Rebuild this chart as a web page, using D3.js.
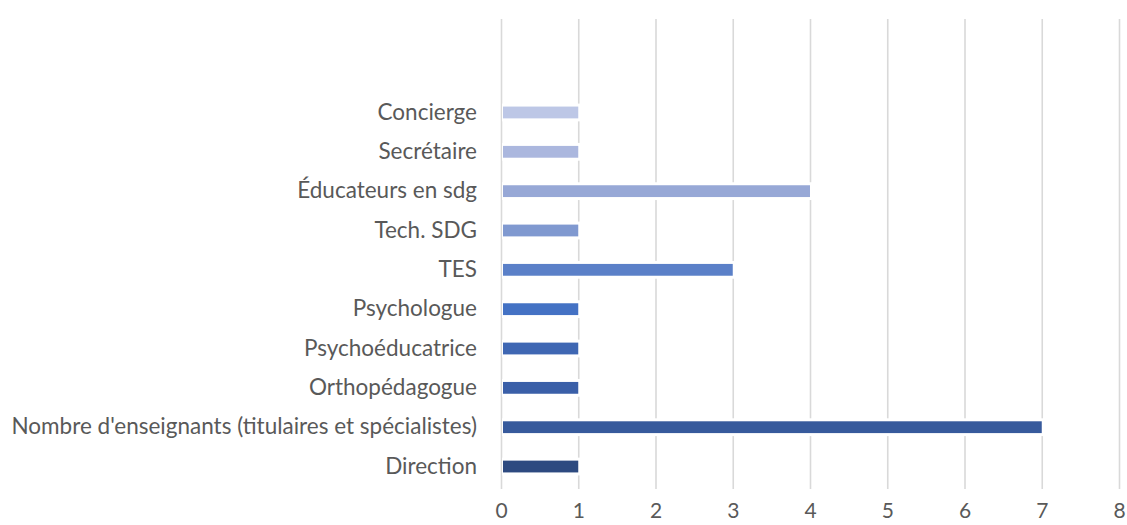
<!DOCTYPE html>
<html>
<head>
<meta charset="utf-8">
<script src="https://cdn.jsdelivr.net/npm/d3@7"></script>
<style>
	body { margin: 0; background: #fff; }
	svg text { font-family: Lato, "Open Sans", sans-serif; fill: #595959; }
</style>
</head>
<body>
<div id="chart"></div>
<script>
// categories listed bottom to top, as in the picture
var categories = ["Direction", "Nombre d'enseignants (titulaires et spécialistes)", "Orthopédagogue",
	"Psychoéducatrice", "Psychologue", "TES", "Tech. SDG", "Éducateurs en sdg", "Secrétaire", "Concierge"];
var values = [1, 7, 1, 1, 1, 3, 1, 4, 1, 1];
var barColors = ["#2D4A80", "#375A9C", "#3A5FA8", "#3F67B3", "#4472C4", "#5B80C8", "#8099D0", "#97A8D6", "#ABB7DE", "#BDC7E6"];
var xTicks = [0, 1, 2, 3, 4, 5, 6, 7, 8];

var W = 1127, H = 525;

var svg = d3.select("#chart").append("svg")
	.attr("width", W)
	.attr("height", H);

var x = d3.scaleLinear()
	.domain([0, 8])
	.range([501, 1119]);

// band range chosen so rows sit where they do in the picture
var y = d3.scaleBand()
	.domain(categories)
	.range([486.2, 92.8])
	.paddingInner(0.7)
	.paddingOuter(0.35);

// grid lines (the x axis, no domain)
var gridTop = 19, gridBottom = 489;
var xAxis = svg.append("g")
	.attr("transform", "translate(0," + gridBottom + ")")
	.call(d3.axisBottom(x).tickValues(xTicks).tickSize(-(gridBottom - gridTop)).tickPadding(14));
xAxis.select(".domain").remove();
xAxis.selectAll(".tick line")
	.attr("stroke", "#D9D9D9")
	.attr("stroke-width", 1.6);
xAxis.selectAll(".tick text")
	.style("font-size", "21px")
	.attr("dy", "0.71em");

// bars, with a white halo that cuts the grid lines like the original
var bars = svg.append("g");
bars.selectAll("rect.halo")
	.data(values)
	.enter().append("rect")
	.attr("class", "halo")
	.attr("x", x(0) + 1)
	.attr("y", function (d, i) { return y(categories[i]) - 3; })
	.attr("width", function (d) { return x(d) - x(0) + 2; })
	.attr("height", y.bandwidth() + 6)
	.attr("fill", "#fff");

bars.selectAll("rect.bar")
	.data(values)
	.enter().append("rect")
	.attr("class", "bar")
	.attr("x", x(0) + 2)
	.attr("y", function (d, i) { return y(categories[i]); })
	.attr("width", function (d) { return x(d) - x(0) - 2; })
	.attr("height", y.bandwidth())
	.attr("fill", function (d, i) { return barColors[i]; });

// category labels
var yAxis = svg.append("g")
	.attr("transform", "translate(" + x(0) + ",0)")
	.call(d3.axisLeft(y).tickSize(0).tickPadding(24));
yAxis.select(".domain").remove();
yAxis.selectAll(".tick text")
	.style("font-size", "22.5px");
</script>
</body>
</html>
